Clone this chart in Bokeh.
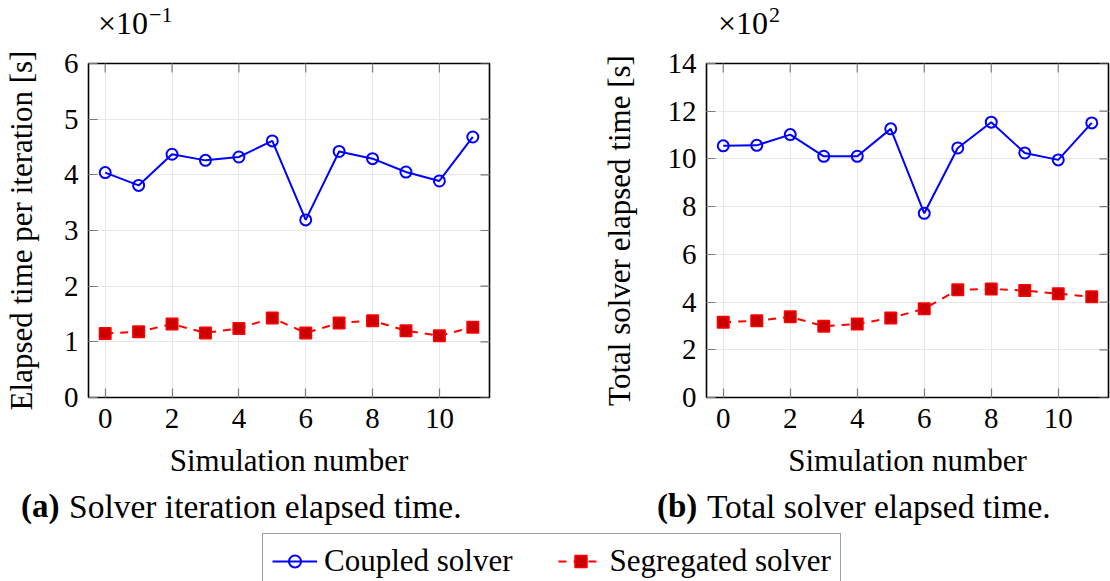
import numpy as np
from bokeh.plotting import figure
from bokeh.models import Range1d, Legend, LegendItem, FixedTicker, Div
from bokeh.layouts import column, row
from bokeh.embed import file_html
from bokeh.resources import INLINE

# ---------------- data ----------------
sim_number = list(range(12))
x_ticks = [0, 2, 4, 6, 8, 10]

# (a) elapsed time per iteration, in units of 1e-1 s
iter_coupled = [4.04, 3.81, 4.37, 4.26, 4.32, 4.61, 3.19, 4.42, 4.29, 4.05, 3.89, 4.68]
iter_segregated = [1.15, 1.18, 1.32, 1.16, 1.24, 1.43, 1.16, 1.34, 1.38, 1.20, 1.11, 1.26]
iter_yticks = [0, 1, 2, 3, 4, 5, 6]

# (b) total solver elapsed time, in units of 1e2 s
total_coupled = [10.55, 10.57, 11.02, 10.11, 10.11, 11.26, 7.72, 10.46, 11.54, 10.25, 9.96, 11.51]
total_segregated = [3.15, 3.22, 3.38, 2.99, 3.08, 3.33, 3.72, 4.52, 4.55, 4.48, 4.35, 4.22]
total_yticks = [0, 2, 4, 6, 8, 10, 12, 14]

series_names = ["Coupled solver", "Segregated solver"]
x_label = "Simulation number"
y_labels = ["Elapsed time per iteration [s]", "Total solver elapsed time [s]"]
exponents = ["−1", "2"]
caption_tags = ["(a)", "(b)"]
caption_texts = ["Solver iteration elapsed time.", "Total solver elapsed time."]

FONT = "Liberation Serif"
BLUE = "#0000ff"
RED = "#ff0000"
RED_FILL = "#cc0000"
TICK_COLOR = "#7a7a7a"
GRID_COLOR = "#e8e8e8"


def style_axis(ax, ticks):
    ax.ticker = FixedTicker(ticks=ticks)
    ax.axis_line_color = None
    ax.major_tick_in = 9
    ax.major_tick_out = 0
    ax.major_tick_line_color = TICK_COLOR
    ax.major_tick_line_width = 1.2
    ax.minor_tick_line_color = None
    ax.major_label_text_font = FONT
    ax.major_label_text_font_size = "29px"
    ax.major_label_text_color = "black"
    ax.axis_label_text_font = FONT
    ax.axis_label_text_font_size = "31px"
    ax.axis_label_text_font_style = "normal"
    ax.axis_label_text_color = "black"


def make_panel(width, b_left, b_right, ymax, yticks, ylabel, ylabel_standoff,
               coupled, segregated):
    p = figure(width=width, height=440,
               x_range=Range1d(-0.5, 11.5), y_range=Range1d(0, ymax),
               min_border_left=b_left, min_border_right=b_right,
               min_border_top=18, min_border_bottom=88,
               output_backend="svg", toolbar_location=None)
    p.outline_line_color = "black"
    p.outline_line_width = 1.6
    p.background_fill_color = "white"
    p.border_fill_color = "white"

    style_axis(p.xaxis[0], x_ticks)
    style_axis(p.yaxis[0], yticks)
    p.xaxis[0].major_label_standoff = 11
    p.yaxis[0].major_label_standoff = 10
    p.xaxis[0].axis_label = x_label
    p.yaxis[0].axis_label = ylabel
    p.xaxis[0].axis_label_standoff = 12
    p.yaxis[0].axis_label_standoff = ylabel_standoff

    p.xgrid.ticker = FixedTicker(ticks=x_ticks)
    p.ygrid.ticker = FixedTicker(ticks=yticks)
    p.grid.grid_line_color = GRID_COLOR
    p.grid.grid_line_width = 1

    # mirrored inward ticks on the top and right edges of the frame
    xe = p.x_range.end
    ye = p.y_range.end
    p.ray(x=[xe] * len(yticks), y=yticks, length=9, length_units="screen",
          angle=np.pi, line_color=TICK_COLOR, line_width=1.2)
    p.ray(x=x_ticks, y=[ye] * len(x_ticks), length=9, length_units="screen",
          angle=-np.pi / 2, line_color=TICK_COLOR, line_width=1.2)

    p.line(sim_number, coupled, line_color=BLUE, line_width=2)
    p.scatter(sim_number, coupled, marker="circle", size=11,
              line_color=BLUE, line_width=2, fill_color=None)
    p.line(sim_number, segregated, line_color=RED, line_width=2, line_dash="8 7")
    p.scatter(sim_number, segregated, marker="square", size=11.5,
              line_color=RED, line_width=1.5, fill_color=RED_FILL)
    return p


f1 = make_panel(555, 86, 66, 6, iter_yticks, y_labels[0], 22,
                iter_coupled, iter_segregated)
f2 = make_panel(555, 151, 2, 14, total_yticks, y_labels[1], 28,
                total_coupled, total_segregated)

# ---------------- scale factors above the plots ----------------
span = "position:absolute;white-space:nowrap;line-height:1;color:#000;font-family:'Liberation Serif';"
sup = "font-size:22px;position:relative;top:-12px;margin-left:1px;"
exp_html = (
    f'<div style="position:relative;width:1110px;height:45px;">'
    f'<span style="{span}left:98px;top:7px;font-size:32px;">×10<span style="{sup}">{exponents[0]}</span></span>'
    f'<span style="{span}left:718px;top:7px;font-size:32px;">×10<span style="{sup}">{exponents[1]}</span></span>'
    f'</div>'
)
exp_div = Div(text=exp_html, width=1110, height=45, margin=0)

# ---------------- sub captions ----------------
cap_html = (
    f'<div style="position:relative;width:1110px;height:45px;">'
    f'<span style="{span}left:21px;top:5px;font-size:33px;font-weight:bold;">{caption_tags[0]}</span>'
    f'<span style="{span}left:69px;top:5px;font-size:33.5px;">{caption_texts[0]}</span>'
    f'<span style="{span}left:657px;top:5px;font-size:33px;font-weight:bold;">{caption_tags[1]}</span>'
    f'<span style="{span}left:707px;top:5px;font-size:33.5px;">{caption_texts[1]}</span>'
    f'</div>'
)
cap_div = Div(text=cap_html, width=1110, height=45, margin=0)

# ---------------- shared legend ----------------
lf = figure(width=1110, height=51, x_range=Range1d(0, 1), y_range=Range1d(0, 1),
            min_border_left=0, min_border_right=0, min_border_top=0, min_border_bottom=0,
            x_axis_location=None, y_axis_location=None,
            output_backend="svg", toolbar_location=None)
lf.outline_line_color = None
lf.xgrid.visible = False
lf.ygrid.visible = False
# renderers only used for the legend samples (their single points lie outside the view)
r1 = lf.line([-5, -4], [-5, -5], line_color=BLUE, line_width=2)
r2 = lf.scatter([-5], [-5], marker="circle", size=11, line_color=BLUE, line_width=2, fill_color=None)
r3 = lf.line([-5, -4], [-5, -5], line_color=RED, line_width=2, line_dash="8 7")
r4 = lf.scatter([-5], [-5], marker="square", size=11.5, line_color=RED, line_width=1.5, fill_color=RED_FILL)
legend = Legend(items=[LegendItem(label=series_names[0], renderers=[r1, r2]),
                       LegendItem(label=series_names[1], renderers=[r3, r4])],
                orientation="horizontal", location=(262, -8),
                label_text_font=FONT, label_text_font_size="31px", label_text_color="black",
                glyph_width=45, glyph_height=30, label_standoff=7, spacing=45,
                padding=9, margin=0, border_line_color="#404040", border_line_width=1.2,
                background_fill_color="white", background_fill_alpha=1)
lf.add_layout(legend, "center")

layout = column(exp_div, row(f1, f2), cap_div, lf)
open("out.html", "w").write(file_html(layout, INLINE))
